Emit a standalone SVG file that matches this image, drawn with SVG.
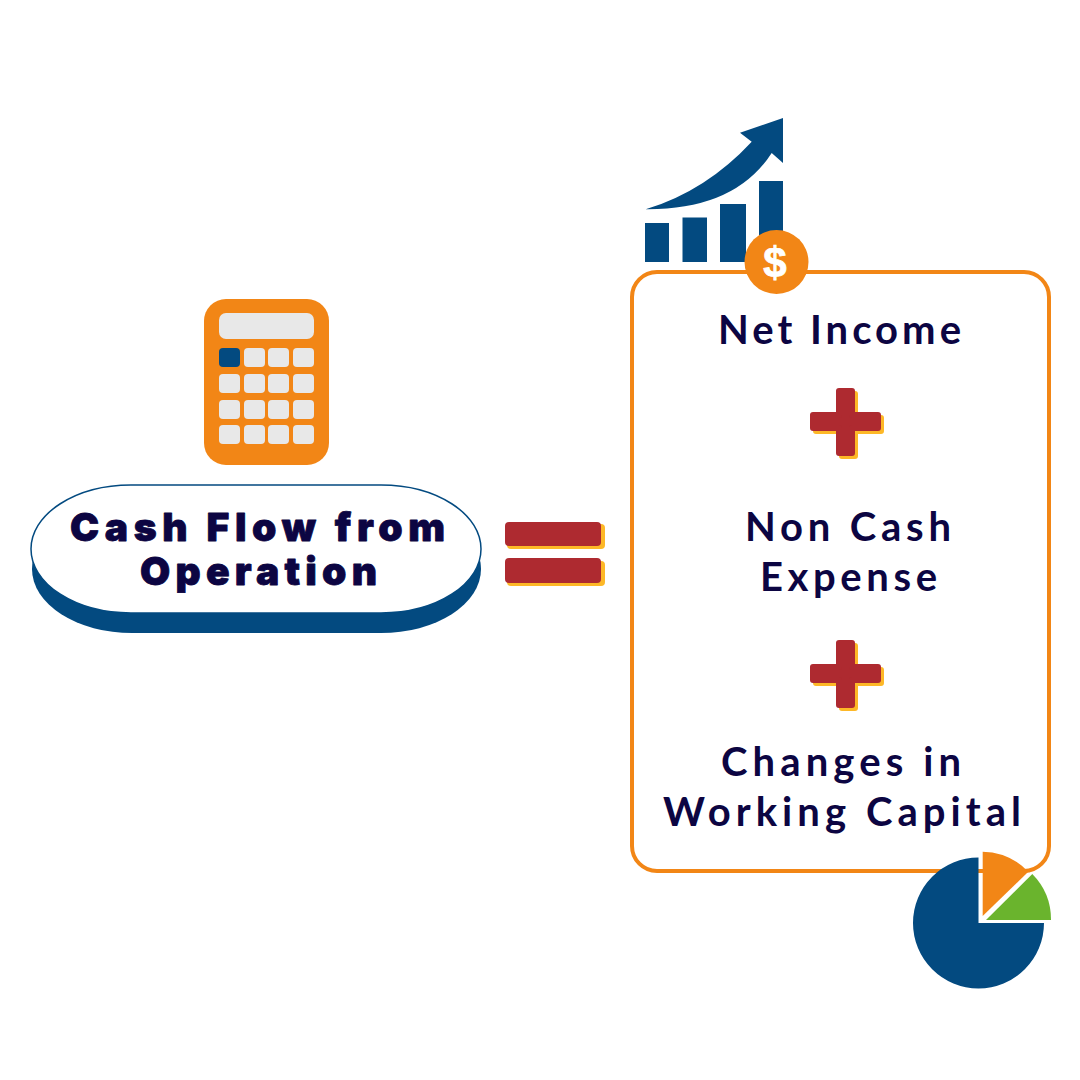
<svg xmlns="http://www.w3.org/2000/svg" width="1080" height="1080" viewBox="0 0 1080 1080">
<style>
.o{fill:#f28616}.b{fill:#034a80}.k{fill:#e8e8e8}.r{fill:#ae2a30}.y{fill:#fdb827}
.t{font-family:"Lato","Noto Sans",sans-serif;font-weight:700;font-size:40px;fill:#0c0542}
.h{font-family:"Inter","Liberation Sans",sans-serif;font-weight:900;font-size:39px;fill:#0c0542;stroke:#0c0542;stroke-width:.8;stroke-linejoin:round}
</style>
<defs>
<g id="plus"><path d="M839 391h13v24h26v13h-26v25h-13v-25h-26v-13h26z" stroke-width="6" stroke-linejoin="round"/></g>
</defs>
<rect width="1080" height="1080" fill="#fff"/>
<g id="calculator">
<rect class="o" x="204" y="299" width="125" height="166" rx="22"/>
<rect class="k" x="219" y="313" width="95" height="26" rx="7"/>
<g class="k">
<rect class="b" x="219" y="348" width="21" height="19" rx="4"/><rect x="244" y="348" width="21" height="19" rx="4"/><rect x="268" y="348" width="21" height="19" rx="4"/><rect x="293" y="348" width="21" height="19" rx="4"/>
<rect x="219" y="374" width="21" height="19" rx="4"/><rect x="244" y="374" width="21" height="19" rx="4"/><rect x="268" y="374" width="21" height="19" rx="4"/><rect x="293" y="374" width="21" height="19" rx="4"/>
<rect x="219" y="400" width="21" height="19" rx="4"/><rect x="244" y="400" width="21" height="19" rx="4"/><rect x="268" y="400" width="21" height="19" rx="4"/><rect x="293" y="400" width="21" height="19" rx="4"/>
<rect x="219" y="425" width="21" height="19" rx="4"/><rect x="244" y="425" width="21" height="19" rx="4"/><rect x="268" y="425" width="21" height="19" rx="4"/><rect x="293" y="425" width="21" height="19" rx="4"/>
</g>
</g>
<g id="cash-flow">
<rect class="b" x="32" y="505" width="449" height="128" rx="100" ry="64"/>
<rect x="31" y="485" width="450" height="128" rx="100" ry="64" fill="#fff" stroke="#034a80" stroke-width="1.5"/>
<text class="h" x="70" y="541" textLength="375">Cash Flow from</text>
<text class="h" x="140" y="585" textLength="237">Operation</text>
</g>
<g id="equals">
<rect class="y" x="507" y="524" width="98" height="25" rx="4"/>
<rect class="y" x="507" y="561" width="98" height="25" rx="4"/>
<rect class="r" x="505" y="522" width="96" height="24" rx="4"/>
<rect class="r" x="505" y="558" width="96" height="25" rx="4"/>
</g>
<g id="formula-box">
<rect x="632" y="272" width="417" height="599" rx="25" fill="#fff" stroke="#f28616" stroke-width="4"/>
<text class="t" x="718" y="344" textLength="243">Net Income</text>
<text class="t" x="745" y="541" textLength="206">Non Cash</text>
<text class="t" x="760" y="591" textLength="177">Expense</text>
<text class="t" x="721" y="776" textLength="240">Changes in</text>
<text class="t" x="663" y="826" textLength="358">Working Capital</text>
</g>
<g id="plus-1">
<use href="#plus" x="3" y="3" class="y" stroke="#fdb827"/>
<use href="#plus" class="r" stroke="#ae2a30"/>
</g>
<g id="plus-2">
<use href="#plus" x="3" y="255" class="y" stroke="#fdb827"/>
<use href="#plus" y="252" class="r" stroke="#ae2a30"/>
</g>
<g id="chart">
<rect class="b" x="645" y="223" width="24" height="39"/>
<rect class="b" x="682.500" y="217.500" width="24.500" height="44.500"/>
<rect class="b" x="720" y="204" width="26" height="58"/>
<rect class="b" x="759" y="181" width="24" height="81"/>
<path class="b" d="M783 118V163L771.700 153Q735 210 645.700 209.300Q706 191 751.700 141.700L740 132.700Z"/>
<circle class="o" cx="776.500" cy="262" r="32"/>
<text x="775" y="277" font-family="'Liberation Sans',sans-serif" font-weight="700" font-size="42" fill="#fff" stroke="#fff" stroke-width=".8" text-anchor="middle">$</text>
</g>
<g id="pie">
<path class="b" d="M978.500 857.500A65.500 65.500 0 1 0 1044 923H978.500Z"/>
<path class="o" d="M982.700 851.700A65 65 0 0 1 1028.300 871.700L982.700 916Z"/>
<path d="M986 920H1051A65 65 0 0 0 1032.300 874Z" fill="#6ab42d"/>
</g>
</svg>
